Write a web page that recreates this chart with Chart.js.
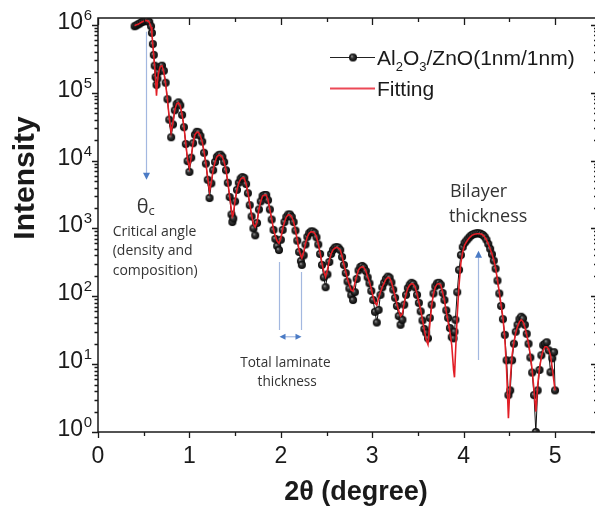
<!DOCTYPE html>
<html>
<head>
<meta charset="utf-8">
<script src="https://cdn.jsdelivr.net/npm/chart.js@4.4.0/dist/chart.umd.min.js"></script>
<style>
  html, body { margin: 0; padding: 0; background: #fff; overflow: hidden; }
  #wrap { width: 595px; height: 508px; overflow: hidden; }
</style>
</head>
<body>
<div id="wrap"><canvas id="xrr" width="605" height="508"></canvas></div>
<script>
// 2theta (degree)
const angles = [
  0.40, 0.42, 0.44, 0.46, 0.48, 0.50, 0.52, 0.54, 0.56, 0.58,
  0.59, 0.60, 0.61, 0.62, 0.63, 0.64, 0.65, 0.66, 0.68, 0.70,
  0.72, 0.74, 0.76, 0.78, 0.80, 0.82, 0.84, 0.86, 0.88, 0.90,
  0.92, 0.94, 0.96, 0.98, 1.00, 1.02, 1.04, 1.06, 1.08, 1.10,
  1.12, 1.14, 1.16, 1.18, 1.20, 1.22, 1.24, 1.26, 1.28, 1.30,
  1.32, 1.34, 1.36, 1.38, 1.40, 1.42, 1.44, 1.46, 1.47, 1.48,
  1.50, 1.52, 1.54, 1.56, 1.58, 1.60, 1.62, 1.64, 1.66, 1.68,
  1.70, 1.72, 1.74, 1.76, 1.78, 1.80, 1.82, 1.84, 1.86, 1.88,
  1.90, 1.92, 1.94, 1.96, 1.98, 2.00, 2.02, 2.04, 2.06, 2.08,
  2.10, 2.12, 2.14, 2.16, 2.18, 2.20, 2.22, 2.23, 2.25, 2.27,
  2.29, 2.31, 2.33, 2.35, 2.37, 2.39, 2.41, 2.43, 2.45, 2.47,
  2.49, 2.51, 2.53, 2.55, 2.57, 2.59, 2.61, 2.63, 2.65, 2.67,
  2.69, 2.71, 2.73, 2.75, 2.77, 2.79, 2.81, 2.83, 2.85, 2.87,
  2.89, 2.91, 2.93, 2.95, 2.97, 2.99, 3.01, 3.03, 3.05, 3.07,
  3.09, 3.11, 3.13, 3.15, 3.17, 3.19, 3.21, 3.23, 3.25, 3.27,
  3.29, 3.31, 3.33, 3.35, 3.37, 3.39, 3.41, 3.43, 3.45, 3.47,
  3.49, 3.51, 3.53, 3.55, 3.57, 3.59, 3.61, 3.63, 3.65, 3.67,
  3.69, 3.71, 3.73, 3.75, 3.77, 3.79, 3.81, 3.83, 3.85, 3.87,
  3.89, 3.90, 3.91, 3.93, 3.95, 3.97, 3.99, 4.01, 4.03, 4.05,
  4.07, 4.09, 4.11, 4.13, 4.15, 4.17, 4.19, 4.21, 4.23, 4.25,
  4.27, 4.29, 4.31, 4.33, 4.35, 4.37, 4.39, 4.41, 4.43, 4.45,
  4.47, 4.49, 4.51, 4.53, 4.55, 4.57, 4.59, 4.61, 4.63, 4.65,
  4.67, 4.69, 4.71, 4.73, 4.75, 4.77, 4.79, 4.81, 4.83, 4.85,
  4.87, 4.89, 4.91, 4.93, 4.95, 4.97, 4.99, 5.00
];

// Al2O3/ZnO(1nm/1nm) measured intensity
const measured = [
  9.5e5, 9.8e5, 1.02e6, 1.05e6, 1.1e6, 1.12e6, 1.15e6, 1.16e6, 1.1e6, 9.5e5,
  7.6e5, 5.2e5, 3.6e5, 2.5e5, 1.7e5, 1.3e5, 1.6e5, 2.0e5, 2.4e5, 2.5e5,
  2.1e5, 1.4e5, 8.0e4, 4.0e4, 2.2e4, 3.4e4, 5.5e4, 6.8e4, 7.2e4, 6.5e4,
  4.7e4, 3.1e4, 1.75e4, 9.8e3, 6.8e3, 1.1e4, 1.8e4, 2.4e4, 2.65e4, 2.6e4,
  2.3e4, 1.9e4, 1.3e4, 9.0e3, 5.2e3, 2.8e3, 4.6e3, 7.2e3, 9.5e3, 1.13e4,
  1.2e4, 1.22e4, 1.13e4, 9.5e3, 7.2e3, 4.7e3, 2.9e3, 1.6e3, 1.24e3, 1.4e3,
  2.5e3, 3.7e3, 4.7e3, 5.4e3, 5.7e3, 5.5e3, 4.5e3, 3.3e3, 2.2e3, 1.5e3,
  1.0e3, 790, 1.2e3, 1.9e3, 2.5e3, 3.0e3, 3.1e3, 3.1e3, 2.6e3, 1.9e3,
  1.35e3, 950, 700, 550, 480, 680, 950, 1.24e3, 1.47e3, 1.6e3,
  1.6e3, 1.47e3, 1.24e3, 930, 660, 450, 330, 290, 400, 580,
  750, 850, 900, 900, 860, 740, 580, 420, 290, 190,
  136, 210, 320, 420, 480, 520, 530, 520, 480, 380,
  290, 220, 165, 130, 104, 88, 115, 180, 240, 270,
  280, 265, 235, 190, 155, 120, 88, 59, 41, 63,
  105, 135, 158, 180, 195, 188, 160, 125, 95, 72,
  51, 38, 45, 75, 105, 132, 148, 158, 152, 135,
  105, 80, 60, 44, 33, 29, 24, 48, 75, 110,
  140, 155, 158, 148, 112, 88, 62, 48, 34, 25,
  24, 30, 45, 115, 245, 405, 530, 610, 660, 710,
  760, 800, 825, 840, 850, 845, 830, 800, 750, 680,
  590, 500, 415, 335, 255, 170, 110, 72, 46, 27,
  11.4, 3.5, 4.1, 11.4, 20, 30, 38, 46, 50, 47,
  38, 28, 20, 12.5, 7.5, 3.5, 1.0, 4.1, 8.2, 13.5,
  19, 20, 21, 16, 7.6, 12.2, 15, 4.1
];

// Fitting curve
const fitted = [
  9.7e5, 1.0e6, 1.02e6, 1.06e6, 1.1e6, 1.13e6, 1.15e6, 1.15e6, 1.1e6, 9.3e5,
  7.4e5, 5.0e5, 3.5e5, 2.4e5, 1.55e5, 9.0e4, 1.45e5, 1.9e5, 2.4e5, 2.5e5,
  2.0e5, 1.35e5, 7.8e4, 4.2e4, 2.6e4, 3.6e4, 5.6e4, 6.8e4, 7.1e4, 6.4e4,
  4.7e4, 3.2e4, 1.8e4, 1.02e4, 7.8e3, 1.13e4, 1.8e4, 2.4e4, 2.6e4, 2.6e4,
  2.3e4, 1.9e4, 1.35e4, 9.2e3, 5.5e3, 3.5e3, 4.8e3, 7.3e3, 9.5e3, 1.13e4,
  1.2e4, 1.2e4, 1.13e4, 9.5e3, 7.3e3, 4.8e3, 3.0e3, 1.85e3, 1.5e3, 1.6e3,
  2.6e3, 3.7e3, 4.7e3, 5.3e3, 5.6e3, 5.5e3, 4.5e3, 3.4e3, 2.3e3, 1.6e3,
  1.15e3, 1.05e3, 1.24e3, 1.9e3, 2.5e3, 3.0e3, 3.1e3, 3.1e3, 2.6e3, 1.9e3,
  1.38e3, 970, 770, 650, 600, 720, 980, 1.24e3, 1.47e3, 1.58e3,
  1.58e3, 1.47e3, 1.24e3, 950, 680, 480, 390, 365, 450, 600,
  750, 850, 890, 890, 850, 750, 590, 435, 310, 230,
  192, 245, 340, 420, 480, 510, 525, 510, 480, 390,
  297, 230, 178, 147, 123, 119, 156, 199, 244, 265,
  273, 262, 235, 192, 162, 128, 98, 80, 74, 94,
  115, 137, 156, 179, 190, 186, 162, 128, 101, 77,
  61, 51, 55, 80, 108, 132, 146, 154, 151, 137,
  108, 82, 63, 45, 32, 23, 19.5, 38, 72, 108,
  137, 151, 154, 147, 115, 88, 59, 42, 30, 19,
  8.2, 6.4, 13.6, 53, 147, 310, 450, 565, 630, 690,
  745, 790, 815, 825, 835, 835, 825, 800, 745, 675,
  590, 500, 420, 340, 260, 174, 115, 74, 48, 24.5,
  8.2, 1.6, 5.8, 13.5, 21, 29, 36, 42, 45, 42,
  35, 27, 20, 13.5, 8.2, 4.1, 2.0, 4.9, 8.7, 12.6,
  16, 18, 18, 16.6, 13.6, 8.7, 5.3, 4.1
];

const xTickLabels = [0, 1, 2, 3, 4, 5];
const yDecades = [0, 1, 2, 3, 4, 5, 6];

const FONT = '"Liberation Sans", Arial, sans-serif';
const NOTE_FONT = '"Open Sans", "Noto Sans", sans-serif';

// shaded ball used as the data marker
function ballImage(r) {
  const c = document.createElement('canvas');
  const s = Math.ceil(r * 2 + 2);
  c.width = s; c.height = s;
  const g = c.getContext('2d');
  const cx = s / 2, cy = s / 2;
  const grad = g.createRadialGradient(cx - r * 0.3, cy - r * 0.3, 0.2, cx, cy, r);
  grad.addColorStop(0, '#9c9c9c');
  grad.addColorStop(0.35, '#353535');
  grad.addColorStop(1, '#050505');
  g.fillStyle = grad;
  g.beginPath(); g.arc(cx, cy, r, 0, Math.PI * 2); g.fill();
  return c;
}
const ball = ballImage(4);

function arrowHead(ctx, x, y, dir, len, half) {
  ctx.beginPath();
  ctx.moveTo(x, y);
  if (dir === 'down') { ctx.lineTo(x - half, y - len); ctx.lineTo(x + half, y - len); }
  if (dir === 'up') { ctx.lineTo(x - half, y + len); ctx.lineTo(x + half, y + len); }
  if (dir === 'left') { ctx.lineTo(x + len, y - half); ctx.lineTo(x + len, y + half); }
  if (dir === 'right') { ctx.lineTo(x - len, y - half); ctx.lineTo(x - len, y + half); }
  ctx.closePath();
  ctx.fill();
}

// axes frame, ticks, labels, titles
const frame = {
  id: 'frame',
  afterDatasetsDraw(chart) {
    const { ctx, chartArea: a, scales: { x, y } } = chart;
    ctx.save();
    ctx.strokeStyle = '#1a1a1a';
    ctx.fillStyle = '#1a1a1a';
    ctx.lineWidth = 1.5;
    ctx.strokeRect(a.left, a.top, a.right - a.left, a.bottom - a.top);

    ctx.lineWidth = 1.3;
    ctx.beginPath();
    for (let v = 0; v <= x.max + 1e-9; v += 0.5) {
      const px = Math.round(x.getPixelForValue(v)) + 0.5;
      const major = Math.abs(v - Math.round(v)) < 1e-6;
      const L = major ? 6 : 4;
      ctx.moveTo(px, a.bottom); ctx.lineTo(px, a.bottom + L);
      ctx.moveTo(px, a.top); ctx.lineTo(px, a.top + (major ? 7 : 4));
    }
    for (let d = 0; d <= 6; d++) {
      for (let m = 1; m <= 9; m++) {
        const v = m * Math.pow(10, d);
        if (v > y.max) break;
        const py = Math.round(y.getPixelForValue(v)) + 0.5;
        const L = m === 1 ? 6 : 3.5;
        ctx.moveTo(a.left, py); ctx.lineTo(a.left - L, py);
        ctx.moveTo(a.right, py); ctx.lineTo(a.right - (m === 1 ? 7 : 4), py);
      }
    }
    ctx.stroke();

    // x tick labels
    ctx.font = '23px ' + FONT;
    ctx.textAlign = 'center';
    ctx.textBaseline = 'alphabetic';
    xTickLabels.forEach(v => {
      ctx.fillText(String(v), x.getPixelForValue(v), 463);
    });

    // y tick labels 10^n
    yDecades.forEach(d => {
      const py = y.getPixelForValue(Math.pow(10, d));
      ctx.font = '15px ' + FONT;
      const w2 = ctx.measureText(String(d)).width;
      ctx.font = '23px ' + FONT;
      const w1 = ctx.measureText('10').width;
      const right = 92;
      ctx.textAlign = 'left';
      ctx.fillText('10', right - w2 - w1 - 0.5, py + 4);
      ctx.font = '15px ' + FONT;
      ctx.fillText(String(d), right - w2, py - 5);
    });

    // axis titles
    ctx.font = 'bold 27px ' + FONT;
    ctx.textAlign = 'center';
    ctx.fillText('2\u03b8 (degree)', 356, 500);
    ctx.save();
    ctx.translate(34, 178);
    ctx.rotate(-Math.PI / 2);
    ctx.font = 'bold 30px ' + FONT;
    ctx.fillText('Intensity', 0, 0);
    ctx.restore();

    // legend
    ctx.lineWidth = 1;
    ctx.strokeStyle = '#222';
    ctx.beginPath(); ctx.moveTo(330, 57.5); ctx.lineTo(375, 57.5); ctx.stroke();
    ctx.drawImage(ball, 353 - ball.width / 2, 57.5 - ball.height / 2);
    ctx.strokeStyle = 'rgb(236, 72, 86)';
    ctx.lineWidth = 2;
    ctx.beginPath(); ctx.moveTo(330, 88.5); ctx.lineTo(375, 88.5); ctx.stroke();

    ctx.textAlign = 'left';
    let tx = 377;
    const part = (txt, size, dy) => {
      ctx.font = size + 'px ' + FONT;
      ctx.fillText(txt, tx, 65 + dy);
      tx += ctx.measureText(txt).width;
    };
    part('Al', 21, 0); part('2', 13, 6); part('O', 21, 0); part('3', 13, 6); part('/ZnO(1nm/1nm)', 21, 0);
    ctx.font = '21px ' + FONT;
    ctx.fillText('Fitting', 377, 96);
    ctx.restore();
  }
};

// arrows and notes
const notes = {
  id: 'notes',
  afterDatasetsDraw(chart) {
    const { ctx, scales: { x, y } } = chart;
    const X = v => x.getPixelForValue(v);
    const Y = v => y.getPixelForValue(v);
    ctx.save();
    const lineBlue = '#a3b8e0';
    const headBlue = '#4b7bc5';

    // critical angle arrow
    const cx = Math.round(X(0.522)) + 0.5;
    ctx.strokeStyle = lineBlue; ctx.lineWidth = 1.2;
    ctx.beginPath(); ctx.moveTo(cx, Y(7.9e5)); ctx.lineTo(cx, Y(5.2e3) - 6); ctx.stroke();
    ctx.fillStyle = headBlue;
    arrowHead(ctx, cx, Y(5.2e3), 'down', 7, 3.5);

    // total laminate thickness markers
    const l1 = Math.round(X(1.978)) + 0.5, l2 = Math.round(X(2.219)) + 0.5;
    ctx.beginPath();
    ctx.moveTo(l1, Y(319)); ctx.lineTo(l1, Y(31.7));
    ctx.moveTo(l2, Y(228)); ctx.lineTo(l2, Y(31.7));
    ctx.stroke();
    const ay = Y(25.3);
    ctx.beginPath(); ctx.moveTo(l1 + 4, ay); ctx.lineTo(l2 - 4, ay); ctx.stroke();
    arrowHead(ctx, l1, ay, 'left', 6, 3);
    arrowHead(ctx, l2, ay, 'right', 6, 3);

    // bilayer arrow
    const bx = Math.round(X(4.16)) + 0.5;
    ctx.beginPath(); ctx.moveTo(bx, Y(11.5)); ctx.lineTo(bx, Y(469) + 6); ctx.stroke();
    arrowHead(ctx, bx, Y(469), 'up', 7, 3.5);

    // texts
    ctx.fillStyle = '#333';
    ctx.textAlign = 'left';
    ctx.font = '20px ' + NOTE_FONT;
    const tx = X(0.424), ty = Y(1.7e3);
    ctx.fillText('\u03b8', tx, ty);
    const tw = ctx.measureText('\u03b8').width;
    ctx.font = '13px ' + NOTE_FONT;
    ctx.fillText('c', tx + tw, ty + 2);

    ctx.font = '14px ' + NOTE_FONT;
    ctx.fillText('Critical angle', X(0.161), Y(785));
    ctx.fillText('(density and', X(0.161), Y(412));
    ctx.fillText('composition)', X(0.161), Y(205));

    ctx.textAlign = 'center';
    ctx.font = '13.6px ' + NOTE_FONT;
    ctx.fillText('Total laminate', X(2.05), Y(9.0));
    ctx.fillText('thickness', X(2.07), Y(4.7));

    ctx.textAlign = 'left';
    ctx.font = '18px ' + NOTE_FONT;
    ctx.fillText('Bilayer', X(3.85), Y(2950));
    ctx.fillText('thickness', X(3.839), Y(1256));
    ctx.restore();
  }
};

const ctx = document.getElementById('xrr').getContext('2d');
new Chart(ctx, {
  type: 'line',
  data: {
    datasets: [
      {
        label: 'Fitting',
        data: angles.map((a, i) => ({ x: a, y: fitted[i] })),
        borderColor: 'rgb(226, 30, 38)',
        borderWidth: 1.6,
        pointRadius: 0,
        fill: false,
        order: 0
      },
      {
        label: 'Al2O3/ZnO(1nm/1nm)',
        data: angles.map((a, i) => ({ x: a, y: measured[i] })),
        borderColor: '#111',
        borderWidth: 1,
        pointStyle: ball,
        pointRadius: 4,
        fill: false,
        order: 1
      }
    ]
  },
  options: {
    responsive: false,
    animation: false,
    devicePixelRatio: 1,
    layout: { padding: { left: 98, right: 7, top: 18, bottom: 76 } },
    scales: {
      x: { type: 'linear', min: 0, max: 5.47, display: false },
      y: { type: 'logarithmic', min: 1, max: 1.2589e6, display: false }
    },
    plugins: {
      legend: { display: false },
      tooltip: { enabled: false }
    }
  },
  plugins: [notes, frame]
});
</script>
</body>
</html>
